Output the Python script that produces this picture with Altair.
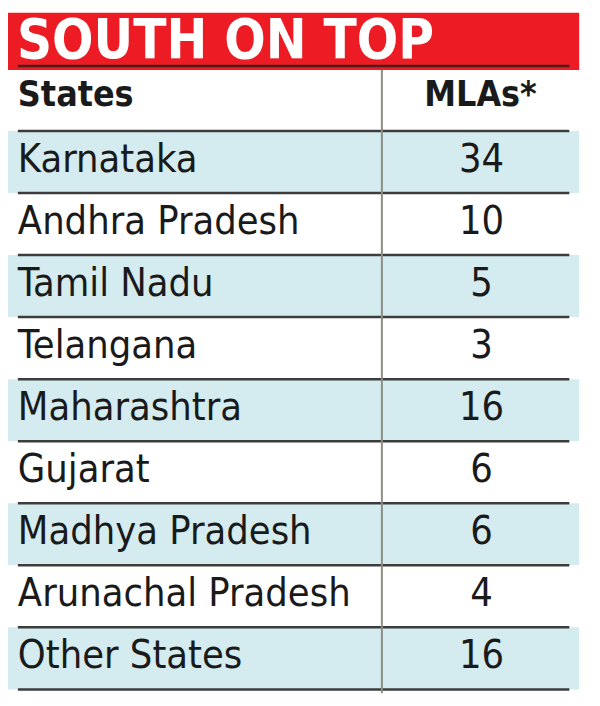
import altair as alt
import pandas as pd

title = "SOUTH ON TOP"
header = ["States", "MLAs*"]
states = ["Karnataka", "Andhra Pradesh", "Tamil Nadu", "Telangana", "Maharashtra",
          "Gujarat", "Madhya Pradesh", "Arunachal Pradesh", "Other States"]
mlas = [34, 10, 5, 3, 16, 6, 6, 4, 16]

FONT = "DejaVu Sans Condensed, DejaVu Sans, sans-serif"

rows = [header[0]] + states
df = pd.DataFrame({
    "row": states,
    "mla": [str(m) for m in mlas],
    "shade": ["blue" if i % 2 == 0 else "white" for i in range(len(states))],
})
hdr = pd.DataFrame({"row": [header[0]], "mla": [header[1]]})
all_rows = pd.DataFrame({"row": rows})
ttl = pd.DataFrame({"t": [title]})

yscale = alt.Scale(domain=rows, range=[57, 686], paddingInner=0, paddingOuter=0)


def Y(band=0.5):
    return alt.Y("row:N", scale=yscale, axis=None, bandPosition=band)


banner = alt.Chart(ttl).mark_rect(color="#ed1c24").encode(
    x=alt.value(0), x2=alt.value(579), y=alt.value(0), y2=alt.value(58))
title_text = alt.Chart(ttl).mark_text(
    align="left", baseline="alphabetic", font=FONT, fontSize=55, fontWeight="bold",
    color="white").encode(x=alt.value(9), y=alt.value(46), text="t:N")

bands = alt.Chart(df).mark_rect().encode(
    y=alt.Y("row:N", scale=yscale, axis=None),
    x=alt.value(0), x2=alt.value(579),
    fill=alt.Color("shade:N", scale=alt.Scale(domain=["blue", "white"],
                                              range=["#d4ecf0", "#ffffff"]), legend=None))

top_line = alt.Chart(hdr).mark_rule(color="#4a1c1c", strokeWidth=2.5, yOffset=-3).encode(
    y=Y(0), x=alt.value(10), x2=alt.value(569))
row_lines = alt.Chart(all_rows).mark_rule(color="#3c3c3c", strokeWidth=2.5).encode(
    y=Y(1), x=alt.value(10), x2=alt.value(569))
divider = alt.Chart(ttl).mark_rule(color="#8c8c84", strokeWidth=2).encode(
    x=alt.value(379), y=alt.value(58), y2=alt.value(690))

hdr_left = alt.Chart(hdr).mark_text(
    align="left", baseline="middle", font=FONT, fontSize=36, fontWeight="bold",
    dy=-5, color="#1a1a1a").encode(y=Y(), x=alt.value(10), text="row:N")
hdr_right = alt.Chart(hdr).mark_text(
    align="center", baseline="middle", font=FONT, fontSize=36, fontWeight="bold",
    dy=-5, color="#1a1a1a").encode(y=Y(), x=alt.value(479), text="mla:N")

names = alt.Chart(df).mark_text(
    align="left", baseline="middle", font=FONT, fontSize=40, dy=-2,
    color="#1a1a1a").encode(y=Y(), x=alt.value(10), text="row:N")
nums = alt.Chart(df).mark_text(
    align="center", baseline="middle", font=FONT, fontSize=40, dy=-2,
    color="#1a1a1a").encode(y=Y(), x=alt.value(480), text="mla:N")

chart = alt.layer(
    banner, title_text, bands, top_line, row_lines, divider,
    hdr_left, hdr_right, names, nums
).properties(
    width=592, height=690, padding=0,
    autosize=alt.AutoSizeParams(type="none"), background="white"
).configure_view(stroke=None)

chart.save("out.html", embed_options={"renderer": "svg", "actions": False})
